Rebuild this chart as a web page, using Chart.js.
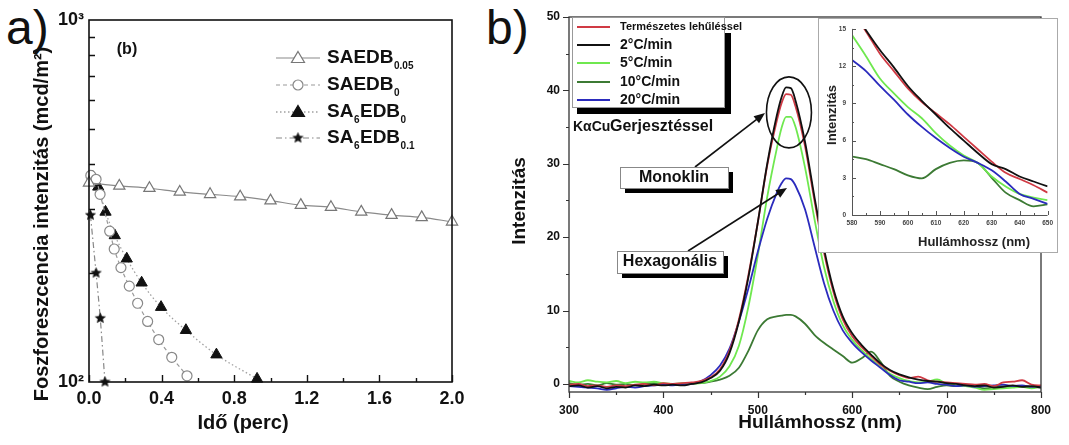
<!DOCTYPE html>
<html>
<head>
<meta charset="utf-8">
<script src="https://cdn.jsdelivr.net/npm/chart.js@4/dist/chart.umd.min.js"></script>
<style>
  body { margin:0; background:#fff; width:1069px; height:445px; overflow:hidden; position:relative; font-family:"Liberation Sans", Arial, sans-serif; }
  canvas, .lbl, #insetBox { position:absolute; }
  .lbl { font-size:48px; line-height:1; color:#111; }
  #insetBox { left:818px; top:18px; width:238px; height:233px; border:1px solid #aaa; background:#fff; }
</style>
</head>
<body>
<div class="lbl" style="left:6px;top:4px">a)</div>
<div class="lbl" style="left:486px;top:4px">b)</div>
<canvas id="decayChart" width="480" height="445" style="left:0;top:0"></canvas>
<canvas id="specChart" width="589" height="445" style="left:480px;top:0"></canvas>
<div id="insetBox"><canvas id="insetChart" width="238" height="233" style="left:0;top:0"></canvas></div>

<script>
Chart.defaults.font.family = '"Liberation Sans", Arial, sans-serif';
Chart.defaults.color = '#111';

// ---- panel a: phosphorescence decay (log scale) ----
var decayLabels = ['SAEDB_{0.05}', 'SAEDB_{0}', 'SA_{6}EDB_{0}', 'SA_{6}EDB_{0.1}'];
var timeSAEDB005 = [0, 0.167, 0.333, 0.5, 0.667, 0.833, 1.0, 1.167, 1.333, 1.5, 1.667, 1.833, 2.0];
var valSAEDB005  = [355, 348, 343, 335, 330, 325, 317, 308, 304, 295, 289, 285, 277];
var timeSAEDB0 = [0.01, 0.039, 0.061, 0.114, 0.139, 0.176, 0.222, 0.268, 0.323, 0.384, 0.456, 0.540];
var valSAEDB0  = [372, 363, 330, 261, 233, 207, 184, 165, 147, 131, 117, 104];
var timeSA6EDB0 = [0.02, 0.051, 0.091, 0.142, 0.208, 0.290, 0.397, 0.534, 0.702, 0.926];
var valSA6EDB0  = [369, 346, 295, 254, 219, 188, 161, 139, 119, 102];
var timeSA6EDB01 = [0.008, 0.039, 0.062, 0.088];
var valSA6EDB01  = [289, 200, 150, 100];
var timeTicks = [0, 0.4, 0.8, 1.2, 1.6, 2.0];
var timeMinorTicks = [0.2, 0.6, 1.0, 1.4, 1.8];
var intensityMinorTicks = [200, 300, 400, 500, 600, 700, 800, 900];

// ---- panel b: emission spectra ----
var specLabels = ['Természetes lehűléssel', '2°C/min', '5°C/min', '10°C/min', '20°C/min'];
var specColors = ['#d03a44', '#111111', '#6fe84f', '#3c7a34', '#2b2bbd'];
var wavelength = [300,310,320,330,340,350,360,370,380,390,400,410,420,430,440,450,460,470,480,490,500,510,520,525,530,535,
  540,550,560,570,580,590,600,610,620,630,640,650,660,670,680,690,700,710,720,730,740,750,760,770,780,790,800];
var natural = [-0.1,0.0,-0.3,-0.2,-0.4,-0.2,-0.3,-0.1,0.0,-0.2,0.1,0.0,0.1,0.2,0.4,0.9,2.0,4.5,8.8,14.8,22.0,29.8,35.8,38.2,39.5,39.4,
  37.8,32.4,25.0,18.0,12.6,8.8,6.5,5.0,3.8,2.6,1.8,1.2,0.8,1.0,0.5,0.3,0.2,0.1,0.0,-0.1,0.0,-0.3,0.2,0.3,0.5,-0.1,-0.2];
var cool2 = [-0.3,-0.2,-0.5,-0.3,-0.6,-0.4,-0.5,-0.2,-0.3,-0.1,-0.2,-0.1,-0.2,0.0,0.2,0.8,1.8,4.2,8.5,14.5,22.0,30.0,36.5,39.0,40.4,40.3,
  38.6,33.0,25.5,18.5,13.0,9.2,6.9,5.3,4.0,2.8,1.9,1.3,0.9,0.6,0.4,0.3,0.1,0.0,-0.2,-0.3,-0.2,-0.5,-0.4,-0.2,-0.4,-0.3,-0.5];
var cool5 = [0.4,0.2,0.5,0.3,0.2,0.4,0.1,0.3,0.2,0.3,0.1,0.0,0.1,0.0,0.1,0.4,1.0,2.4,5.2,10.5,17.5,25.5,32.0,34.8,36.4,36.4,
  35.0,29.5,22.5,16.0,11.3,8.0,6.0,4.6,3.4,2.3,1.4,0.8,0.4,0.2,0.3,0.6,0.0,-0.2,-0.3,-0.5,-0.8,-0.7,-0.6,-0.5,-0.4,-0.6,-0.3];
var cool10 = [0.1,-0.1,0.0,-0.2,0.1,-0.1,0.0,-0.2,0.0,0.1,-0.1,0.0,0.0,0.1,0.1,0.3,0.6,1.1,2.2,4.5,7.3,8.8,9.2,9.3,9.4,9.4,
  9.2,8.2,6.7,5.6,4.7,3.8,2.9,3.5,4.4,3.0,1.1,0.3,-0.2,-0.5,-0.7,-0.4,-0.2,-0.3,-0.2,-0.4,-0.6,-0.5,-0.3,-0.4,-0.3,-0.4,-0.5];
var cool20 = [-0.3,-0.4,-0.5,-0.6,-0.8,-0.6,-0.4,-0.5,-0.3,-0.2,-0.1,-0.2,-0.1,0.0,0.4,1.2,2.5,4.8,8.5,13.0,18.0,22.5,26.0,27.3,28.0,27.9,
  27.0,23.8,18.8,13.8,10.0,7.3,5.6,4.3,3.2,2.2,1.2,0.5,0.3,0.1,0.2,0.0,-0.1,-0.3,-0.2,-0.4,-0.3,-0.2,-0.1,-0.3,-0.2,-0.4,-0.3];
var wlTicks = [300, 400, 500, 600, 700, 800];
var specTicks = [0, 10, 20, 30, 40, 50];

// ---- inset: tail of the spectra ----
var insetWl = [580,585,590,595,600,605,610,615,620,625,630,635,640,645,650];
var insetNatural = [16.4,14.8,13.0,11.6,10.2,9.1,8.2,7.3,6.3,5.3,4.3,3.4,2.9,2.4,1.8];
var insetCool2  = [16.6,14.9,13.3,11.9,10.4,9.2,8.1,7.0,6.0,5.0,4.1,3.7,3.1,2.7,2.3];
var insetCool5  = [14.5,12.8,11.0,9.8,8.7,7.8,6.6,5.6,4.8,4.2,3.1,2.3,1.7,1.4,1.2];
var insetCool10 = [4.7,4.5,4.1,3.7,3.2,2.95,3.7,4.2,4.4,4.2,3.0,1.8,1.2,0.7,0.85];
var insetCool20 = [12.5,11.6,10.4,9.3,8.1,7.1,6.2,5.4,4.7,4.2,3.6,2.7,1.7,1.3,0.9];
var insetXTicks = [580, 590, 600, 610, 620, 630, 640, 650];
var insetYTicks = [0, 3, 6, 9, 12, 15];

function pts(xs, ys) {
  return xs.map(function (x, i) { return { x: x, y: ys[i] }; });
}

//filled star used as point style
function makeStar(size, color) {
  var c = document.createElement('canvas');
  c.width = size; c.height = size;
  var g = c.getContext('2d');
  var r = size / 2;
  g.beginPath();
  for (var k = 0; k < 10; k++) {
    var a = -Math.PI / 2 + k * Math.PI / 5;
    var rr = k % 2 ? r * 0.42 : r - 0.5;
    g.lineTo(r + rr * Math.cos(a), r + rr * Math.sin(a));
  }
  g.closePath();
  g.fillStyle = color;
  g.fill();
  return c;
}
var starImg = makeStar(13, '#111');

//small tick marks, dir 1 = into the plot, -1 = outwards
function tickMarks(chart, axis, values, len, dir) {
  var ctx = chart.ctx, area = chart.chartArea, scale = chart.scales[axis];
  ctx.beginPath();
  values.forEach(function (v) {
    var p = Math.round(scale.getPixelForValue(v)) + 0.5;
    if (axis === 'x') {
      ctx.moveTo(p, area.bottom); ctx.lineTo(p, area.bottom - len * dir);
    } else {
      ctx.moveTo(area.left, p); ctx.lineTo(area.left + len * dir, p);
    }
  });
  ctx.stroke();
}

function rotatedText(ctx, text, x, y, font) {
  ctx.save();
  ctx.translate(x, y);
  ctx.rotate(-Math.PI / 2);
  ctx.font = font;
  ctx.textAlign = 'center';
  ctx.textBaseline = 'middle';
  ctx.fillText(text, 0, 0);
  ctx.restore();
}

function plainText(ctx, text, x, y, font, align) {
  ctx.font = font;
  ctx.textAlign = align || 'center';
  ctx.textBaseline = 'middle';
  ctx.fillText(text, x, y);
}

//text with _{...} subscripts
function subText(ctx, text, x, y, size, subSize) {
  var parts = text.split(/_\{([^}]*)\}/);
  ctx.textAlign = 'left';
  ctx.textBaseline = 'middle';
  for (var i = 0; i < parts.length; i++) {
    if (!parts[i]) continue;
    if (i % 2 === 0) {
      ctx.font = 'bold ' + size + 'px "Liberation Sans", Arial';
      ctx.fillText(parts[i], x, y);
    } else {
      ctx.font = 'bold ' + subSize + 'px "Liberation Sans", Arial';
      ctx.fillText(parts[i], x, y + size * 0.42);
    }
    x += ctx.measureText(parts[i]).width + 0.5;
  }
}

function arrow(ctx, x1, y1, x2, y2) {
  var a = Math.atan2(y2 - y1, x2 - x1), L = 11, W = 4.5;
  ctx.beginPath();
  ctx.moveTo(x1, y1);
  ctx.lineTo(x2 - 6 * Math.cos(a), y2 - 6 * Math.sin(a));
  ctx.stroke();
  ctx.beginPath();
  ctx.moveTo(x2, y2);
  ctx.lineTo(x2 - L * Math.cos(a) + W * Math.sin(a), y2 - L * Math.sin(a) - W * Math.cos(a));
  ctx.lineTo(x2 - L * Math.cos(a) - W * Math.sin(a), y2 - L * Math.sin(a) + W * Math.cos(a));
  ctx.closePath();
  ctx.fill();
}

function shadowBox(ctx, x, y, w, h, off) {
  ctx.fillStyle = '#000';
  ctx.fillRect(x + off, y + off, w, h);
  ctx.fillStyle = '#fff';
  ctx.fillRect(x, y, w, h);
  ctx.strokeStyle = '#888';
  ctx.lineWidth = 1;
  ctx.strokeRect(x + 0.5, y + 0.5, w, h);
}

var decayDecor = {
  id: 'decayDecor',
  afterDatasetsDraw: function (chart) {
    var ctx = chart.ctx, a = chart.chartArea;
    ctx.save();
    ctx.strokeStyle = '#111';
    ctx.lineWidth = 1.6;
    ctx.strokeRect(a.left, a.top, a.right - a.left, a.bottom - a.top);
    ctx.lineWidth = 1.4;
    tickMarks(chart, 'x', timeTicks, 7, 1);
    tickMarks(chart, 'x', timeMinorTicks, 4, 1);
    tickMarks(chart, 'y', intensityMinorTicks, 6, 1);
    ctx.restore();
  },
  afterDraw: function (chart) {
    var ctx = chart.ctx;
    ctx.save();
    ctx.fillStyle = '#111';
    rotatedText(ctx, 'Foszforeszcencia intenzitás (mcd/m²)', 42, 224, 'bold 20px "Liberation Sans", Arial');
    plainText(ctx, 'Idő (perc)', 243, 423, 'bold 20px "Liberation Sans", Arial');
    plainText(ctx, '(b)', 127, 50, 'bold 16px "Liberation Sans", Arial');
    //legend
    var rows = [58, 85, 112, 138];
    chart.data.datasets.forEach(function (ds, i) {
      var y = rows[i];
      ctx.strokeStyle = ds.borderColor;
      ctx.lineWidth = ds.borderWidth;
      ctx.setLineDash(ds.borderDash || []);
      ctx.beginPath(); ctx.moveTo(276, y); ctx.lineTo(320, y); ctx.stroke();
      ctx.setLineDash([]);
      if (ds.pointStyle === 'triangle') {
        ctx.beginPath();
        ctx.moveTo(298, y - 6.5); ctx.lineTo(304.5, y + 4.5); ctx.lineTo(291.5, y + 4.5); ctx.closePath();
        ctx.fillStyle = ds.pointBackgroundColor; ctx.fill();
        ctx.strokeStyle = ds.pointBorderColor; ctx.lineWidth = 1.2; ctx.stroke();
      } else if (ds.pointStyle === 'circle') {
        ctx.beginPath(); ctx.arc(298, y, 5, 0, Math.PI * 2);
        ctx.fillStyle = '#fff'; ctx.fill();
        ctx.strokeStyle = ds.pointBorderColor; ctx.lineWidth = 1.2; ctx.stroke();
      } else {
        ctx.drawImage(starImg, 298 - 6.5, y - 6.5);
      }
      ctx.fillStyle = '#111';
      subText(ctx, ds.label, 327, y, 19, 10);
    });
    ctx.restore();
  }
};

new Chart(document.getElementById('decayChart'), {
  type: 'line',
  data: {
    datasets: [
      { label: decayLabels[0], data: pts(timeSAEDB005, valSAEDB005), borderColor: '#8a8a8a', borderWidth: 1.2,
        pointStyle: 'triangle', pointRadius: 6.5, pointBorderColor: '#777', pointBackgroundColor: '#fff', pointBorderWidth: 1.2 },
      { label: decayLabels[1], data: pts(timeSAEDB0, valSAEDB0), borderColor: '#9a9a9a', borderWidth: 1.2, borderDash: [4, 3],
        pointStyle: 'circle', pointRadius: 5, pointBorderColor: '#888', pointBackgroundColor: '#fff', pointBorderWidth: 1.2 },
      { label: decayLabels[2], data: pts(timeSA6EDB0, valSA6EDB0), borderColor: '#a0a0a0', borderWidth: 1.3, borderDash: [1.5, 2.5],
        pointStyle: 'triangle', pointRadius: 6.5, pointBorderColor: '#111', pointBackgroundColor: '#111', pointBorderWidth: 1 },
      { label: decayLabels[3], data: pts(timeSA6EDB01, valSA6EDB01), borderColor: '#888', borderWidth: 1.2, borderDash: [6, 3, 1.5, 3],
        pointStyle: starImg }
    ]
  },
  options: {
    responsive: false, animation: false, devicePixelRatio: 1,
    layout: { padding: { left: 0, right: 28, top: 20, bottom: 0 } },
    plugins: { legend: { display: false }, tooltip: { enabled: false } },
    elements: { line: { cubicInterpolationMode: 'monotone' } },
    datasets: { line: { clip: 8 } },
    scales: {
      x: {
        type: 'linear', min: 0, max: 2,
        afterFit: function (s) { s.height = 63; },
        afterBuildTicks: function (s) { s.ticks = timeTicks.map(function (v) { return { value: v }; }); },
        grid: { display: false, drawTicks: false }, border: { display: false },
        ticks: { padding: 6, autoSkip: false, maxRotation: 0, font: { size: 18, weight: 'bold' },
          callback: function (v) { return v.toFixed(1); } }
      },
      y: {
        type: 'logarithmic', min: 100, max: 1000,
        afterFit: function (s) { s.width = 89; },
        afterBuildTicks: function (s) { s.ticks = [100, 1000].map(function (v) { return { value: v }; }); },
        grid: { display: false, drawTicks: false }, border: { display: false },
        ticks: { padding: 5, autoSkip: false, font: { size: 18, weight: 'bold' },
          callback: function (v) { return v === 1000 ? '10³' : '10²'; } }
      }
    }
  },
  plugins: [decayDecor]
});

var specDecor = {
  id: 'specDecor',
  afterDatasetsDraw: function (chart) {
    var ctx = chart.ctx, a = chart.chartArea;
    ctx.save();
    ctx.strokeStyle = '#333';
    ctx.lineWidth = 1.3;
    ctx.strokeRect(a.left, a.top, a.right - a.left, a.bottom - a.top);
    ctx.lineWidth = 1.2;
    tickMarks(chart, 'x', wlTicks, 6, -1);
    tickMarks(chart, 'x', [350, 450, 550, 650, 750], 3, -1);
    tickMarks(chart, 'y', specTicks, 6, -1);
    tickMarks(chart, 'y', [5, 15, 25, 35, 45], 3, -1);
    ctx.restore();
  },
  afterDraw: function (chart) {
    var ctx = chart.ctx;
    var xs = chart.scales.x, ys = chart.scales.y;
    ctx.save();
    ctx.fillStyle = '#111';
    rotatedText(ctx, 'Intenzitás', 40, 201, 'bold 19px "Liberation Sans", Arial');
    plainText(ctx, 'Hullámhossz (nm)', 340, 423, 'bold 19px "Liberation Sans", Arial');

    //circle around the peak
    ctx.strokeStyle = '#111';
    ctx.lineWidth = 1.6;
    ctx.beginPath();
    ctx.ellipse(xs.getPixelForValue(533), ys.getPixelForValue(37), 22.5, 35.5, 0, 0, Math.PI * 2);
    ctx.stroke();

    //arrows and labels
    ctx.fillStyle = '#111';
    ctx.lineWidth = 1.6;
    arrow(ctx, 215, 167, 285, 113);
    arrow(ctx, 208, 251, 307, 188);
    shadowBox(ctx, 140, 167, 108, 21, 5);
    shadowBox(ctx, 137, 251, 106, 22, 5);
    ctx.fillStyle = '#111';
    plainText(ctx, 'Monoklin', 194, 178, 'bold 16px "Liberation Sans", Arial');
    plainText(ctx, 'Hexagonális', 190, 262, 'bold 16px "Liberation Sans", Arial');

    //legend box with shadow
    ctx.fillStyle = '#000';
    ctx.fillRect(245, 33, 6, 81);
    ctx.fillRect(97, 108, 154, 6);
    ctx.fillStyle = '#fff';
    ctx.fillRect(92, 17, 153, 91);
    ctx.strokeStyle = '#999';
    ctx.lineWidth = 1;
    ctx.strokeRect(92.5, 17.5, 152, 90);
    var rows = [27, 45, 63, 82, 100];
    chart.data.datasets.forEach(function (ds, i) {
      ctx.strokeStyle = ds.borderColor;
      ctx.lineWidth = 2;
      ctx.beginPath(); ctx.moveTo(97, rows[i]); ctx.lineTo(130, rows[i]); ctx.stroke();
      ctx.fillStyle = '#111';
      plainText(ctx, ds.label, 140, rows[i], i === 0 ? 'bold 11px "Liberation Sans", Arial' : 'bold 14px "Liberation Sans", Arial', 'left');
    });
    plainText(ctx, 'KαCu', 93, 127, 'bold 14px "Liberation Sans", Arial', 'left');
    plainText(ctx, 'Gerjesztéssel', 130, 127, 'bold 16px "Liberation Sans", Arial', 'left');
    ctx.restore();
  }
};

new Chart(document.getElementById('specChart'), {
  type: 'line',
  data: {
    datasets: [
      { label: specLabels[0], data: pts(wavelength, natural), borderColor: specColors[0], order: 1 },
      { label: specLabels[1], data: pts(wavelength, cool2), borderColor: specColors[1], order: 0 },
      { label: specLabels[2], data: pts(wavelength, cool5), borderColor: specColors[2], order: 3 },
      { label: specLabels[3], data: pts(wavelength, cool10), borderColor: specColors[3], order: 4 },
      { label: specLabels[4], data: pts(wavelength, cool20), borderColor: specColors[4], order: 2 }
    ]
  },
  options: {
    responsive: false, animation: false, devicePixelRatio: 1,
    layout: { padding: { left: 0, right: 28, top: 17, bottom: 0 } },
    plugins: { legend: { display: false }, tooltip: { enabled: false } },
    elements: { point: { radius: 0 }, line: { borderWidth: 1.8, cubicInterpolationMode: 'monotone' } },
    scales: {
      x: {
        type: 'linear', min: 300, max: 800,
        afterFit: function (s) { s.height = 53; },
        afterBuildTicks: function (s) { s.ticks = wlTicks.map(function (v) { return { value: v }; }); },
        grid: { display: false, drawTicks: false }, border: { display: false },
        ticks: { padding: 11, autoSkip: false, maxRotation: 0, font: { size: 12, weight: 'bold' } }
      },
      y: {
        type: 'linear', min: -1.1, max: 50,
        afterFit: function (s) { s.width = 89; },
        afterBuildTicks: function (s) { s.ticks = specTicks.map(function (v) { return { value: v }; }); },
        grid: { display: false, drawTicks: false }, border: { display: false },
        ticks: { padding: 9, autoSkip: false, font: { size: 12, weight: 'bold' } }
      }
    }
  },
  plugins: [specDecor]
});

var insetDecor = {
  id: 'insetDecor',
  afterDatasetsDraw: function (chart) {
    var ctx = chart.ctx, a = chart.chartArea;
    ctx.save();
    ctx.strokeStyle = '#555';
    ctx.lineWidth = 1;
    ctx.beginPath();
    ctx.moveTo(a.left + 0.5, a.top); ctx.lineTo(a.left + 0.5, a.bottom + 0.5); ctx.lineTo(a.right, a.bottom + 0.5);
    ctx.stroke();
    tickMarks(chart, 'x', insetXTicks, 4, 1);
    tickMarks(chart, 'x', [585, 595, 605, 615, 625, 635, 645], 2, 1);
    tickMarks(chart, 'y', insetYTicks, 4, 1);
    tickMarks(chart, 'y', [1.5, 4.5, 7.5, 10.5, 13.5], 2, 1);
    ctx.fillStyle = '#222';
    rotatedText(ctx, 'Intenzitás', 13, 96, 'bold 13px "Liberation Sans", Arial');
    plainText(ctx, 'Hullámhossz (nm)', 155, 223, 'bold 13px "Liberation Sans", Arial');
    ctx.restore();
  }
};

new Chart(document.getElementById('insetChart'), {
  type: 'line',
  data: {
    datasets: [
      { label: specLabels[0], data: pts(insetWl, insetNatural), borderColor: specColors[0], order: 1 },
      { label: specLabels[1], data: pts(insetWl, insetCool2), borderColor: specColors[1], order: 0 },
      { label: specLabels[2], data: pts(insetWl, insetCool5), borderColor: specColors[2], order: 3 },
      { label: specLabels[3], data: pts(insetWl, insetCool10), borderColor: specColors[3], order: 4 },
      { label: specLabels[4], data: pts(insetWl, insetCool20), borderColor: specColors[4], order: 2 }
    ]
  },
  options: {
    responsive: false, animation: false, devicePixelRatio: 1,
    layout: { padding: { left: 0, right: 9, top: 5, bottom: 0 } },
    plugins: { legend: { display: false }, tooltip: { enabled: false } },
    elements: { point: { radius: 0 }, line: { borderWidth: 1.8, cubicInterpolationMode: 'monotone' } },
    scales: {
      x: {
        type: 'linear', min: 580, max: 650,
        afterFit: function (s) { s.height = 37; },
        afterBuildTicks: function (s) { s.ticks = insetXTicks.map(function (v) { return { value: v }; }); },
        grid: { display: false, drawTicks: false }, border: { display: false },
        ticks: { padding: 4, autoSkip: false, maxRotation: 0, color: '#444', font: { size: 6.5, weight: 'bold' } }
      },
      y: {
        type: 'linear', min: 0, max: 15,
        afterFit: function (s) { s.width = 33; },
        afterBuildTicks: function (s) { s.ticks = insetYTicks.map(function (v) { return { value: v }; }); },
        grid: { display: false, drawTicks: false }, border: { display: false },
        ticks: { padding: 6, autoSkip: false, color: '#444', font: { size: 6.5, weight: 'bold' } }
      }
    }
  },
  plugins: [insetDecor]
});
</script>
</body>
</html>
